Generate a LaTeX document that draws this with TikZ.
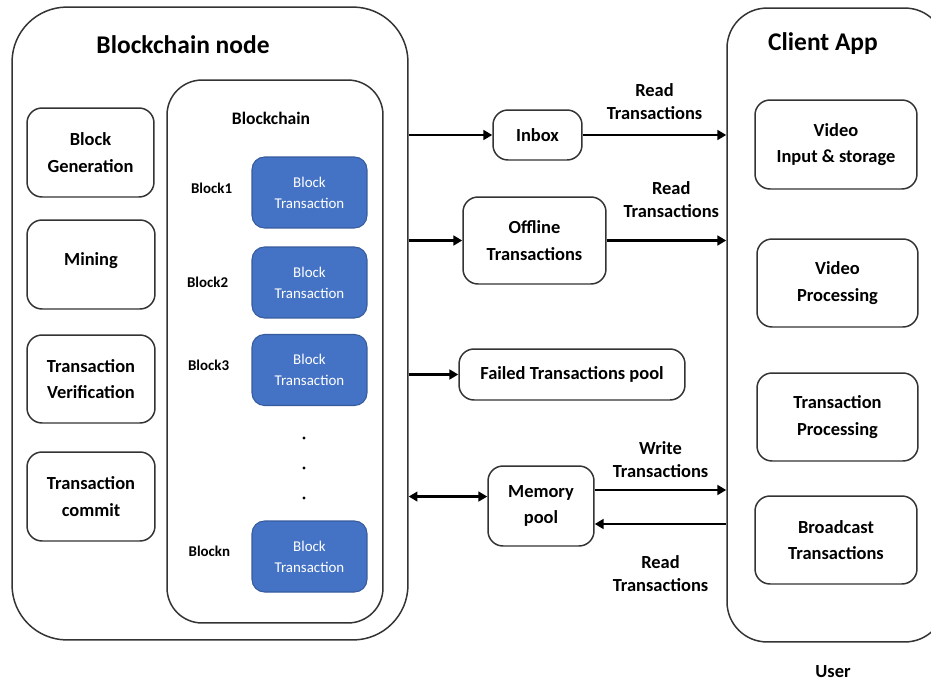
\documentclass[tikz,border=0pt]{standalone}
\usepackage{fontspec}
\setmainfont{Carlito}
\usetikzlibrary{arrows.meta,positioning}
\definecolor{blockblue}{HTML}{4472C4}
\definecolor{edge}{HTML}{333333}
\tikzset{
  box/.style={draw=edge, line width=0.85pt, rounded corners=0.3cm, align=center,
    font=\fontsize{10.5}{15}\selectfont\bfseries, inner sep=0pt},
  blockbox/.style={fill=blockblue, draw=blockblue!80!black, line width=0.6pt, rounded corners=0.25cm,
    align=center, text=white, font=\fontsize{8.5}{12}\selectfont, inner sep=0pt,
    minimum width=2.3cm, minimum height=1.42cm},
  blocklabel/.style={font=\fontsize{8.5}{10}\selectfont\bfseries, inner sep=0pt},
  title/.style={font=\fontsize{14.5}{17}\selectfont\bfseries},
  tip/.style={Triangle[length=5pt,width=5.5pt]},
  flow/.style={line width=1.35pt, -{Triangle[length=5pt,width=5.5pt]}},
  biflow/.style={line width=1.35pt, {Triangle[length=5pt,width=5.5pt]}-{Triangle[length=5pt,width=5.5pt]}},
  flowlabel/.style={align=center, font=\fontsize{10.5}{13}\selectfont\bfseries}
}
\begin{document}
\begin{tikzpicture}[x=0.02cm, y=-0.02cm]
    \useasboundingbox (0,0) rectangle (931,684);
    \clip (0,0) rectangle (931,684);
    % containers
    \node[draw=edge, line width=0.85pt, rounded corners=1.1cm, minimum width=7.92cm, minimum height=12.66cm] (bnode) at (210,323.5) {};
    \node[title] (bnodetitle) at (183,45) {Blockchain node};
    \node[draw=edge, line width=0.85pt, rounded corners=0.7cm, minimum width=4.32cm, minimum height=10.86cm] (chain) at (275,351.5) {};
    \node[font=\fontsize{10}{12}\selectfont\bfseries] (chaintitle) at (271,118) {Blockchain};
    \node[draw=edge, line width=0.85pt, rounded corners=0.8cm, minimum width=4.36cm, minimum height=12.68cm] (client) at (836,325) {};
    \node[title] (clienttitle) at (823,44) {Client App};
    \node[font=\fontsize{10.5}{12}\selectfont\bfseries] (user) at (833,672) {User};
    % blockchain node functions
    \node[box, minimum width=2.54cm, minimum height=1.78cm] (gen) at (90.5,152.5) {Block\\Generation};
    \node[box, minimum width=2.56cm, minimum height=1.78cm] (mining) at (91,264.5) {\raisebox{0.2cm}{Mining}};
    \node[box, minimum width=2.56cm, minimum height=1.76cm] (verif) at (91,379) {Transaction\\Verification};
    \node[box, minimum width=2.56cm, minimum height=1.78cm] (commit) at (91,496.5) {Transaction\\commit};
    % blocks
    \node[blockbox] (b1) at (309.5,192.5) {Block\\Transaction};
    \node[blockbox] (b2) at (309.5,282.5) {Block\\Transaction};
    \node[blockbox] (b3) at (309.5,370) {Block\\Transaction};
    \node[blockbox] (bn) at (309.5,556.5) {Block\\Transaction};
    \node[blocklabel, left=0.38cm of b1, yshift=0.08cm] (l1) {Block1};
    \node[blocklabel, left=0.46cm of b2] (l2) {Block2};
    \node[blocklabel, left=0.44cm of b3, yshift=0.1cm] (l3) {Block3};
    \node[blocklabel, left=0.42cm of bn, yshift=0.1cm] (ln) {Blockn};
    \foreach \y in {438,468,498}
        \fill (304,\y) circle (1.6);
    % pools in the middle
    \node[box, minimum width=1.78cm, minimum height=1.0cm] (inbox) at (537.5,135) {Inbox};
    \node[box, minimum width=2.86cm, minimum height=1.74cm] (offline) at (534.5,240.5) {Offline\\Transactions};
    \node[box, minimum width=4.52cm, minimum height=1.02cm] (failed) at (572,374.5) {Failed Transactions pool};
    \node[box, minimum width=2.12cm, minimum height=1.6cm] (mem) at (541,506) {Memory\\pool};
    % client app parts
    \node[box, minimum width=3.24cm, minimum height=1.78cm] (vis) at (836,144.5) {Video\\Input \& storage};
    \node[box, minimum width=3.22cm, minimum height=1.76cm] (vproc) at (837.5,283) {Video\\Processing};
    \node[box, minimum width=3.22cm, minimum height=1.76cm] (tproc) at (837.5,417) {Transaction\\Processing};
    \node[box, minimum width=3.24cm, minimum height=1.76cm] (bcast) at (836,540) {Broadcast\\Transactions};
    % connectors
    \draw[flow] (bnode.east |- inbox) -- (inbox.west);
    \draw[flow] (inbox.east) -- (client.west |- inbox)
        node[flowlabel, midway, above=5pt] {Read\\Transactions};
    \draw[flow] (bnode.east |- offline) -- (offline.west);
    \draw[flow] (offline.east) -- (client.west |- offline)
        node[flowlabel, pos=0.54, above=9pt] {Read\\Transactions};
    \draw[flow] (bnode.east |- failed) -- (failed.west);
    \draw[biflow] (bnode.east |- mem.170) -- (mem.170);
    \coordinate (wr) at ([yshift=0.32cm]mem.east);
    \coordinate (rd) at ([yshift=-0.36cm]mem.east);
    \draw[flow] (wr) -- (wr -| client.west)
        node[flowlabel, midway, above=3pt] {Write\\Transactions};
    \draw[flow] (rd -| client.west) -- (rd)
        node[flowlabel, midway, below=14pt] {Read\\Transactions};
\end{tikzpicture}
\end{document}
